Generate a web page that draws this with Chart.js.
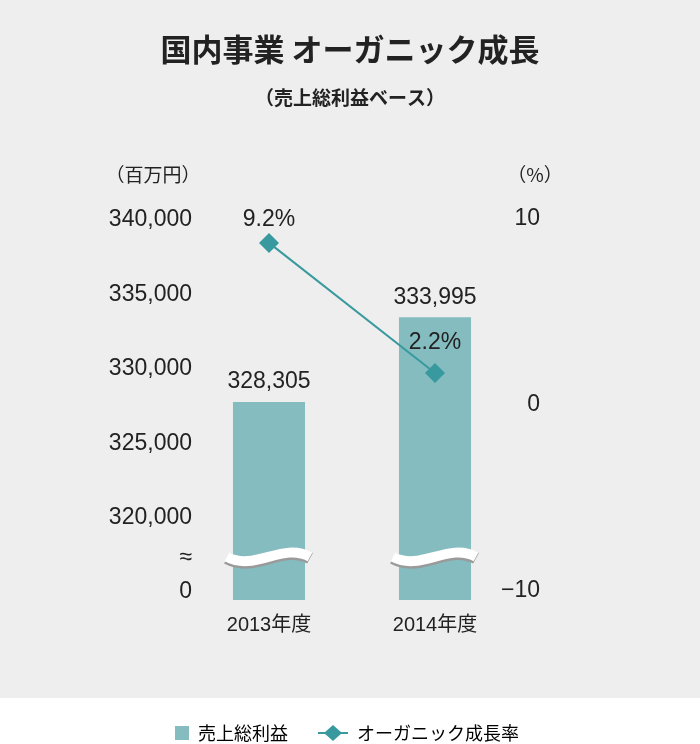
<!DOCTYPE html>
<html>
<head>
<meta charset="utf-8">
<script src="https://cdn.jsdelivr.net/npm/chart.js@4.4.0/dist/chart.umd.min.js"></script>
<style>
  html, body { margin: 0; padding: 0; background: #fff; }
</style>
</head>
<body>
<canvas id="chart" width="700" height="744"></canvas>
<script>
// data
const categories = ['2013年度', '2014年度'];
const grossProfit = [328305, 333995];   // 百万円
const growthRate = [9.2, 2.2];          // %
const leftTicks = [320000, 325000, 330000, 335000, 340000];
const rightTicks = [-10, 0, 10];
const leftFloor = 315000;   // drawn as "0" under the break
const leftBreak = 317300;   // drawn as "≈"

const BAR = '#84bcbf';
const LINE = '#38999e';
const TXT = '#222222';
const NUM_FONT = "'Liberation Sans', 'Noto Sans CJK JP', sans-serif";
const JP_FONT = "'Noto Sans CJK JP', sans-serif";

// legend symbols
function legendSquare() {
    const c = document.createElement('canvas');
    c.width = 30; c.height = 14;
    const g = c.getContext('2d');
    g.fillStyle = BAR;
    g.fillRect(16, 0, 14, 14);
    return c;
}
function legendDiamond() {
    const c = document.createElement('canvas');
    c.width = 30; c.height = 16;
    const g = c.getContext('2d');
    g.strokeStyle = LINE; g.lineWidth = 2;
    g.beginPath(); g.moveTo(0, 8); g.lineTo(30, 8); g.stroke();
    g.fillStyle = LINE;
    g.beginPath(); g.moveTo(15, 0); g.lineTo(24, 8); g.lineTo(15, 16); g.lineTo(6, 8); g.closePath(); g.fill();
    return c;
}

const background = {
    id: 'background',
    beforeDraw(chart) {
        const ctx = chart.ctx;
        ctx.save();
        ctx.fillStyle = '#ffffff';
        ctx.fillRect(0, 0, chart.width, chart.height);
        ctx.fillStyle = '#eeeeee';
        ctx.fillRect(0, 0, chart.width, 698);
        ctx.restore();
    },
    afterLayout(chart) {
        // nudge legend so the square sits where the original has it
        chart.legend.left -= 11;
        chart.legend.right -= 11;
        // left tick labels hang a few px into the plot
        chart.scales.y.right += 6;
    }
};

// wavy break over the bars
const axisBreak = {
    id: 'axisBreak',
    afterDatasetsDraw(chart) {
        const ctx = chart.ctx;
        const y = chart.scales.y.getPixelForValue(317900);
        chart.getDatasetMeta(0).data.forEach(bar => {
            const x0 = bar.x - bar.width / 2 - 6;
            const x1 = bar.x + bar.width / 2 + 5;
            const w = x1 - x0;
            const wave = (dy) => {
                ctx.beginPath();
                ctx.moveTo(x0, y + dy);
                ctx.bezierCurveTo(x0 + w / 3, y + dy + 15, x0 + 2 * w / 3, y + dy - 15, x1, y + dy);
                ctx.stroke();
            };
            ctx.save();
            ctx.lineCap = 'butt';
            ctx.strokeStyle = '#9a9a9a';
            ctx.lineWidth = 12;
            wave(1.5);
            ctx.strokeStyle = '#ffffff';
            ctx.lineWidth = 10;
            wave(0);
            ctx.restore();
        });
    }
};

// value labels + unit labels
const labelDy = [-23, -30];
const valueLabels = {
    id: 'valueLabels',
    afterDatasetsDraw(chart) {
        const ctx = chart.ctx;
        ctx.save();
        ctx.fillStyle = TXT;
        ctx.font = '23px ' + NUM_FONT;
        ctx.textAlign = 'center';
        ctx.textBaseline = 'middle';
        chart.getDatasetMeta(0).data.forEach((bar, i) => {
            ctx.fillText(grossProfit[i].toLocaleString('en-US'), bar.x, bar.y - 20);
        });
        chart.getDatasetMeta(1).data.forEach((pt, i) => {
            ctx.fillText(growthRate[i].toFixed(1) + '%', pt.x, pt.y + labelDy[i]);
        });
        const a = chart.chartArea;
        ctx.font = '19px ' + JP_FONT;
        ctx.fillText('（百万円）', a.left - 33, a.top - 53);
        ctx.fillText('（%）', a.right + 17, a.top - 53);
        ctx.restore();
    }
};

const ctx = document.getElementById('chart').getContext('2d');
const chart = new Chart(ctx, {
    type: 'bar',
    data: {
        labels: categories,
        datasets: [
            {
                label: '売上総利益',
                data: grossProfit,
                yAxisID: 'y',
                backgroundColor: BAR,
                barPercentage: 0.434,
                categoryPercentage: 1,
                order: 2
            },
            {
                type: 'line',
                label: 'オーガニック成長率',
                data: growthRate,
                yAxisID: 'y2',
                borderColor: LINE,
                borderWidth: 2,
                pointStyle: 'rectRot',
                pointRadius: 10,
                pointBackgroundColor: LINE,
                pointBorderColor: LINE,
                pointBorderWidth: 0,
                order: 1
            }
        ]
    },
    options: {
        responsive: false,
        animation: false,
        devicePixelRatio: 1,
        layout: { padding: { top: 0, left: 0, right: 0, bottom: -8 } },
        plugins: {
            title: {
                display: true,
                text: '国内事業 オーガニック成長',
                color: TXT,
                font: { family: JP_FONT, size: 31, weight: 'bold' },
                padding: { top: 31, bottom: 0 }
            },
            subtitle: {
                display: true,
                text: '（売上総利益ベース）',
                color: TXT,
                font: { family: JP_FONT, size: 19, weight: 'bold' },
                padding: { top: 18.4, bottom: 118.6 }
            },
            legend: {
                position: 'bottom',
                labels: {
                    usePointStyle: true,
                    pointStyleWidth: 30,
                    padding: 30,
                    color: TXT,
                    font: { family: JP_FONT, size: 18 },
                    generateLabels: () => [
                        { text: '売上総利益', pointStyle: legendSquare(), fillStyle: BAR, strokeStyle: BAR, lineWidth: 0, hidden: false, datasetIndex: 0 },
                        { text: 'オーガニック成長率', pointStyle: legendDiamond(), fillStyle: LINE, strokeStyle: LINE, lineWidth: 0, hidden: false, datasetIndex: 1 }
                    ]
                }
            },
            tooltip: { enabled: false }
        },
        scales: {
            x: {
                grid: { display: false, drawTicks: false },
                border: { display: false },
                ticks: { color: TXT, padding: 13, font: { family: NUM_FONT, size: 20 } },
                afterFit: s => { s.height = 94; }
            },
            y: {
                position: 'left',
                min: leftFloor,
                max: 340000,
                grid: { display: false, drawTicks: false },
                border: { display: false },
                afterBuildTicks: s => {
                    s.ticks = [leftFloor, leftBreak].concat(leftTicks).map(v => ({ value: v }));
                },
                ticks: {
                    color: TXT,
                    padding: 0,
                    labelOffset: -8,
                    font: { family: NUM_FONT, size: 23 },
                    callback: v => v === leftFloor ? '0' : v === leftBreak ? '≈' : v.toLocaleString('en-US')
                },
                afterFit: s => { s.width = 186; }
            },
            y2: {
                position: 'right',
                min: -10,
                max: 10,
                grid: { display: false, drawTicks: false },
                border: { display: false },
                afterBuildTicks: s => {
                    s.ticks = rightTicks.map(v => ({ value: v }));
                },
                ticks: {
                    color: TXT,
                    mirror: true,
                    padding: 22,
                    labelOffset: -9,
                    font: { family: NUM_FONT, size: 23 },
                    callback: v => v < 0 ? '−' + Math.abs(v) : String(v)
                },
                afterFit: s => { s.width = 182; }
            }
        }
    },
    plugins: [background, axisBreak, valueLabels]
});
</script>
</body>
</html>
